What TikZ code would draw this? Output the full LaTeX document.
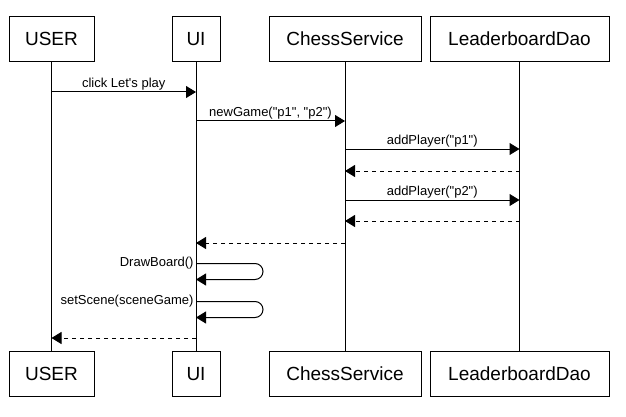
\documentclass[tikz,border=0pt]{standalone}
\usepackage{fontspec}
\newfontfamily\lsans{Liberation Sans}
\usetikzlibrary{arrows.meta,positioning}

\begin{document}
\begin{tikzpicture}[x=1pt,y=-1pt,line width=1pt,
  k/.style={rectangle,draw,outer sep=0pt,inner sep=0pt,minimum height=45pt,font=\lsans\fontsize{19}{23}\selectfont},
  msg/.style={-{Triangle[length=10pt,width=12pt]}},
  rmsg/.style={msg,dash pattern=on 4pt off 4pt},
  t/.style={font=\lsans\fontsize{13}{15}\selectfont,inner sep=0pt},
  lb/.style={t,anchor=base,yshift=4.5pt},
  sl/.style={t,anchor=east,xshift=-2pt}]
  \useasboundingbox (0,0) rectangle (626,417);

  \node[k,minimum width=85pt] (u) at (51.5,39) {USER};
  \node[k,minimum width=48pt,right=78pt] (ui) at (u.east) {UI};
  \node[k,minimum width=152pt,right=49pt] (cs) at (ui.east) {ChessService};
  \node[k,minimum width=179pt,right=9pt] (ld) at (cs.east) {LeaderboardDao};

  \node[k,minimum width=85pt,below=290pt] (u2) at (u.south) {USER};
  \node[k,minimum width=48pt,below=290pt] (ui2) at (ui.south) {UI};
  \node[k,minimum width=152pt,below=290pt] (cs2) at (cs.south) {ChessService};
  \node[k,minimum width=179pt,below=290pt] (ld2) at (ld.south) {LeaderboardDao};

  \draw (u) -- (u2);
  \draw (ui) -- (ui2);
  \draw (cs) -- (cs2);
  \draw (ld) -- (ld2);

  \draw[msg] (u |- 0,92) -- node[lb] (m1) {click Let's play} (ui |- 0,92);
  \draw[msg] (ui |- 0,121) -- node[lb] (m2) {newGame("p1", "p2")} (cs |- 0,121);
  \draw[msg] (cs |- 0,149) -- node[lb] (m3) {addPlayer("p1")} (ld |- 0,149);
  \draw[rmsg] (ld |- 0,171) -- (cs |- 0,171);
  \draw[msg] (cs |- 0,200) -- node[lb] (m4) {addPlayer("p2")} (ld |- 0,200);
  \draw[rmsg] (ld |- 0,221) -- (cs |- 0,221);
  \draw[rmsg] (cs |- 0,243) -- (ui |- 0,243);

  \draw[msg,rounded corners=8pt] (ui |- 0,263.5) -- ++(67,0) -- ++(0,16) -- (ui |- 0,279.5);
  \node[sl] (m5) at (ui |- 0,263) {DrawBoard()};
  \draw[msg,rounded corners=8pt] (ui |- 0,301.5) -- ++(67,0) -- ++(0,16) -- (ui |- 0,317.5);
  \node[sl] (m6) at (ui |- 0,301) {setScene(sceneGame)};

  \draw[rmsg] (ui |- 0,338) -- (u |- 0,338);
\end{tikzpicture}
\end{document}
